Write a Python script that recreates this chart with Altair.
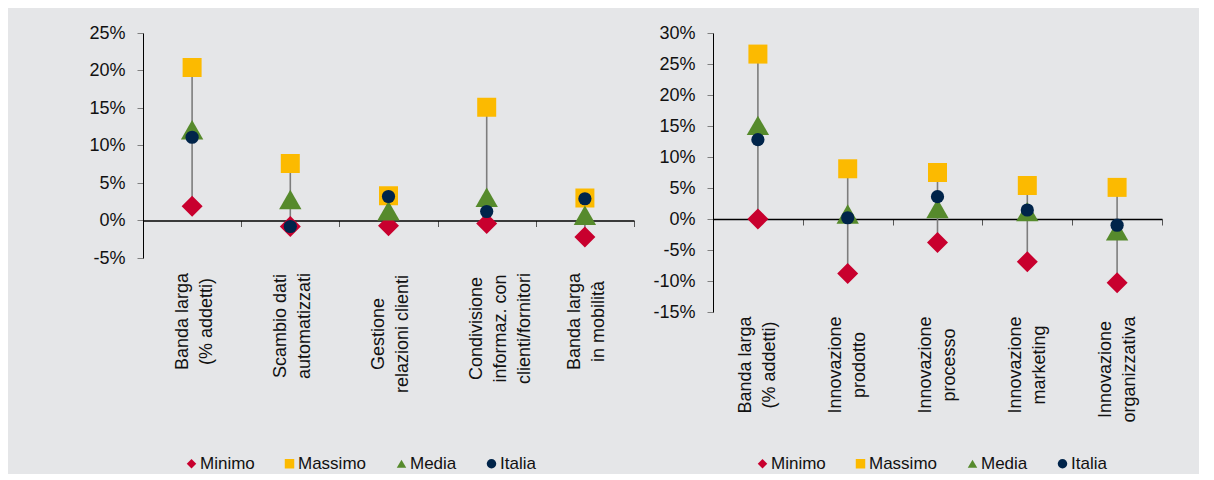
import altair as alt
import pandas as pd

# ---------------- data ----------------
series = ["Minimo", "Massimo", "Media", "Italia"]

cats_left = [
    "Banda larga|(% addetti)",
    "Scambio dati|automatizzati",
    "Gestione|relazioni clienti",
    "Condivisione|informaz. con|clienti/fornitori",
    "Banda larga|in mobilità",
]
min_left = [1.9, -0.8, -0.7, -0.4, -2.2]
max_left = [20.4, 7.6, 3.3, 15.1, 3.0]
media_left = [12.1, 2.8, 1.3, 3.1, 0.7]
italia_left = [11.1, -0.8, 3.2, 1.2, 2.9]

cats_right = [
    "Banda larga|(% addetti)",
    "Innovazione|prodotto",
    "Innovazione|processo",
    "Innovazione|marketing",
    "Innovazione|organizzativa",
]
min_right = [0.0, -8.8, -3.8, -6.9, -10.3]
max_right = [26.6, 8.1, 7.5, 5.4, 5.1]
media_right = [15.1, 0.8, 1.7, 1.2, -1.9]
italia_right = [12.8, 0.2, 3.6, 1.45, -1.0]

ticks_left = [-0.05, 0.0, 0.05, 0.10, 0.15, 0.20, 0.25]
ticks_right = [-0.15, -0.10, -0.05, 0.0, 0.05, 0.10, 0.15, 0.20, 0.25, 0.30]

# label padding (so that label blocks start just below the axis, lines centered)
pad_left = [94.5, 99, 107, 101.5, 94.5]
pad_right = [139.5, 139.5, 139.5, 139.5, 144]

colors = ["#C8002E", "#FCBA00", "#568A2C", "#00244A"]
shapes = ["diamond", "square", "triangle-up", "circle"]
sizes = [441, 361, 500, 175]

FONT = "Liberation Sans"


def panel(cats, mins, maxs, medias, italias, ticks, width, height, x_offset,
          pads, label_offset, legend_x, legend_y):
    wide = pd.DataFrame({"cat": cats, "min": [v / 100 for v in mins],
                         "max": [v / 100 for v in maxs]})
    rows = []
    for s, vals in zip(series, [mins, maxs, medias, italias]):
        for c, v in zip(cats, vals):
            rows.append({"cat": c, "series": s, "value": v / 100})
    long = pd.DataFrame(rows)

    pad_cond = {
        "condition": [
            {"test": f"datum.value === '{c}'", "value": p}
            for c, p in zip(cats, pads)
        ],
        "value": pads[-1],
    }

    x = alt.X(
        "cat:N", sort=cats, title=None,
        scale=alt.Scale(type="band", paddingInner=0, paddingOuter=0),
        axis=alt.Axis(
            orient="bottom", offset=x_offset, domainColor="#000000",
            domainWidth=1.5, tickColor="#555555", tickSize=6, tickWidth=1,
            tickBand="extent", labelAngle=-90, labelAlign="center",
            labelBaseline="middle", labelFontSize=18, labelLineHeight=24,
            labelFont=FONT, labelColor="#111111",
            labelExpr="split(datum.label, '|')", labelPadding=pad_cond,
            labelOffset=label_offset,
            labelOverlap=False, labelBound=False, labelLimit=300,
        ),
    )
    y_domain = [ticks[0], ticks[-1]]
    y_axis = alt.Axis(
        values=ticks, grid=False, domainColor="#000000", domainWidth=1,
        tickColor="#808080", tickSize=6, labelPadding=12, labelFontSize=18,
        labelFont=FONT, labelColor="#111111",
        labelExpr="round(datum.value * 100) + '%'",
    )
    y_scale = alt.Scale(domain=y_domain, nice=False, zero=False)

    legend = alt.Legend(
        title=None, orient="none", legendX=legend_x, legendY=legend_y,
        direction="horizontal", symbolSize=90, labelFontSize=17,
        labelFont=FONT, labelColor="#111111", columnPadding=26,
        labelOffset=0, symbolStrokeWidth=0,
    )
    color = alt.Color("series:N", scale=alt.Scale(domain=series, range=colors),
                      legend=legend)
    shape = alt.Shape("series:N", scale=alt.Scale(domain=series, range=shapes),
                      legend=legend)

    rule = alt.Chart(wide).mark_rule(color="#7d7d7d", strokeWidth=1.6).encode(
        x=x,
        y=alt.Y("min:Q", scale=y_scale, axis=y_axis, title=None),
        y2="max:Q",
    )
    layers = [rule]
    for s, sz in zip(series, sizes):
        layers.append(
            alt.Chart(long)
            .transform_filter(alt.datum.series == s)
            .mark_point(filled=True, size=sz, opacity=1, strokeWidth=0)
            .encode(
                x=x,
                y=alt.Y("value:Q", scale=y_scale, axis=y_axis, title=None),
                color=color,
                shape=shape,
            )
        )
    return alt.layer(*layers).properties(width=width, height=height)


left = panel(cats_left, min_left, max_left, media_left, italia_left,
             ticks_left, 491, 225, -37.5, pad_left, -10, 40, 422)
right = panel(cats_right, min_right, max_right, media_right, italia_right,
              ticks_right, 449, 279, -93, pad_right, -12, 41, 422)

chart = (
    alt.hconcat(left, right, spacing=17)
    .resolve_scale(color="independent", shape="independent")
    .properties(padding={"left": 80, "top": 16, "right": 36, "bottom": 2})
    .configure(background="#E5E6E8", font=FONT)
    .configure_view(stroke=None)
)

chart.save("out.html", embed_options={"renderer": "svg", "actions": False})
